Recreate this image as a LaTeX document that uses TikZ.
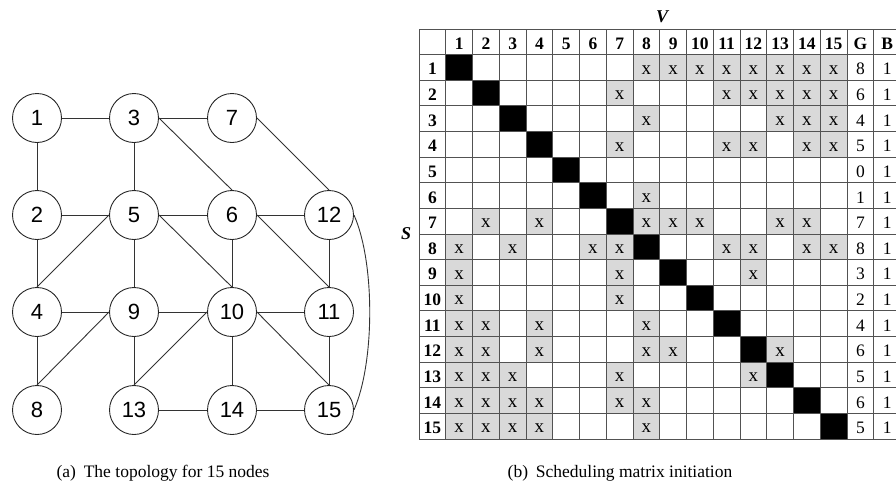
\documentclass[tikz,border=0pt]{standalone}
\usepackage{fontspec}
\setmainfont{Liberation Serif}
\newfontfamily\arialf{Liberation Sans}
\begin{document}
\begin{tikzpicture}[x=1pt,y=-1pt,
  vtx/.style={circle,draw=black!85,line width=0.9pt,minimum size=49pt,inner sep=0pt,font=\arialf\fontsize{22}{22}\selectfont},
  edge/.style={draw=black!80,line width=0.9pt},
  gridline/.style={draw=black!68,line width=1pt},
  cellbox/.style={rectangle,draw=none,minimum width=26.75pt,minimum height=25.625pt,inner sep=0pt},
  celltxt/.style={anchor=base,inner sep=0pt,font=\fontsize{17.5}{17.5}\selectfont},
  xtxt/.style={anchor=base,inner sep=0pt,font=\fontsize{19}{19}\selectfont},
  hdr/.style={anchor=base,inner sep=0pt,font=\bfseries\fontsize{17.5}{17.5}\selectfont},
  axislbl/.style={inner sep=0pt,font=\bfseries\itshape\fontsize{18}{18}\selectfont},
  captxt/.style={anchor=base,inner sep=0pt,font=\fontsize{17.5}{17.5}\selectfont}
]
\useasboundingbox (0,0) rectangle (896,485);
\definecolor{xgray}{gray}{0.85}

% ---------- scheduling matrix ----------
\foreach \r/\cols/\g in {
1/{8,9,10,11,12,13,14,15}/8,
2/{7,11,12,13,14,15}/6,
3/{8,13,14,15}/4,
4/{7,11,12,14,15}/5,
5/{0}/0,
6/{8}/1,
7/{2,4,8,9,10,13,14}/7,
8/{1,3,6,7,11,12,14,15}/8,
9/{1,7,12}/3,
10/{1,7}/2,
11/{1,2,4,8}/4,
12/{1,2,4,8,9,13}/6,
13/{1,2,3,7,12}/5,
14/{1,2,3,4,7,8}/6,
15/{1,2,3,4,8}/5}{
  \foreach \c in \cols {
    \ifnum\c>0
      \node[cellbox,fill=xgray] (x-\r-\c) at ({419+(\c+0.5)*26.75},{29+(\r+0.5)*25.625}) {};
      \node[xtxt] (xt-\r-\c) at ({419+(\c+0.5)*26.75},{29+(\r+0.5)*25.625+6.8}) {x};
    \fi
  }
  \node[cellbox,fill=black] (d-\r) at ({419+(\r+0.5)*26.75},{29+(\r+0.5)*25.625}) {};
  \node[hdr] (r-\r) at ({419+0.5*26.75},{29+(\r+0.5)*25.625+7.5}) {\r};
  \node[celltxt] (g-\r) at ({419+16.5*26.75},{29+(\r+0.5)*25.625+7.5}) {\g};
  \node[celltxt] (b-\r) at ({419+17.5*26.75},{29+(\r+0.5)*25.625+7.5}) {1};
}
\foreach \c in {1,...,15}{
  \node[hdr] (h-\c) at ({419+(\c+0.5)*26.75},{29+0.5*25.625+7.5}) {\c};
}
\node[hdr] (h-G) at ({419+16.5*26.75},{29+0.5*25.625+7.5}) {G};
\node[hdr] (h-B) at ({419+17.5*26.75},{29+0.5*25.625+7.5}) {B};

\foreach \k in {0,...,16}{
  \draw[gridline] (419,{29+\k*25.625}) -- (900.5,{29+\k*25.625});
}
\foreach \k in {0,...,18}{
  \draw[gridline] ({419+\k*26.75},29) -- ({419+\k*26.75},439);
}

\node[axislbl] (V) at (662,17) {V};
\node[axislbl] (S) at (406,234) {S};

% ---------- topology graph ----------
\node[vtx] (n1) at (37,118) {1};
\node[vtx] (n3) at (134,118) {3};
\node[vtx] (n7) at (232,118) {7};
\node[vtx] (n2) at (37,215) {2};
\node[vtx] (n5) at (134,215) {5};
\node[vtx] (n6) at (232,215) {6};
\node[vtx] (n12) at (329,215) {12};
\node[vtx] (n4) at (37,312) {4};
\node[vtx] (n9) at (134,312) {9};
\node[vtx] (n10) at (232,312) {10};
\node[vtx] (n11) at (329,312) {11};
\node[vtx] (n8) at (37,410) {8};
\node[vtx] (n13) at (134,410) {13};
\node[vtx] (n14) at (232,410) {14};
\node[vtx] (n15) at (329,410) {15};

\draw[edge] (n1.east) -- (n3.west);
\draw[edge] (n1.south) -- (n2.north);
\draw[edge] (n3.east) -- (n7.west);
\draw[edge] (n3.south) -- (n5.north);
\draw[edge] (n3.east) -- (n6.north);
\draw[edge] (n7.east) -- (n12.north);
\draw[edge] (n2.east) -- (n5.west);
\draw[edge] (n2.south) -- (n4.north);
\draw[edge] (n5.west) -- (n4.north);
\draw[edge] (n5.east) -- (n6.west);
\draw[edge] (n5.south) -- (n9.north);
\draw[edge] (n5.east) -- (n10.north);
\draw[edge] (n6.east) -- (n12.west);
\draw[edge] (n6.south) -- (n10.north);
\draw[edge] (n6.east) -- (n11.north);
\draw[edge] (n12.south) -- (n11.north);
\draw[edge] (n4.east) -- (n9.west);
\draw[edge] (n4.south) -- (n8.north);
\draw[edge] (n9.west) -- (n8.north);
\draw[edge] (n9.east) -- (n10.west);
\draw[edge] (n9.south) -- (n13.north);
\draw[edge] (n10.east) -- (n11.west);
\draw[edge] (n10.west) -- (n13.north);
\draw[edge] (n10.south) -- (n14.north);
\draw[edge] (n10.east) -- (n15.north);
\draw[edge] (n11.south) -- (n15.north);
\draw[edge] (n13.east) -- (n14.west);
\draw[edge] (n14.east) -- (n15.west);
\draw[edge] (n12.east) .. controls (375,262) and (375,362) .. (n15.east);

% ---------- captions ----------
\node[captxt] (capa) at (163,477) {(a)\hspace{0.45em}The topology for 15 nodes};
\node[captxt] (capb) at (620,477) {(b)\hspace{0.45em}Scheduling matrix initiation};
\end{tikzpicture}
\end{document}
